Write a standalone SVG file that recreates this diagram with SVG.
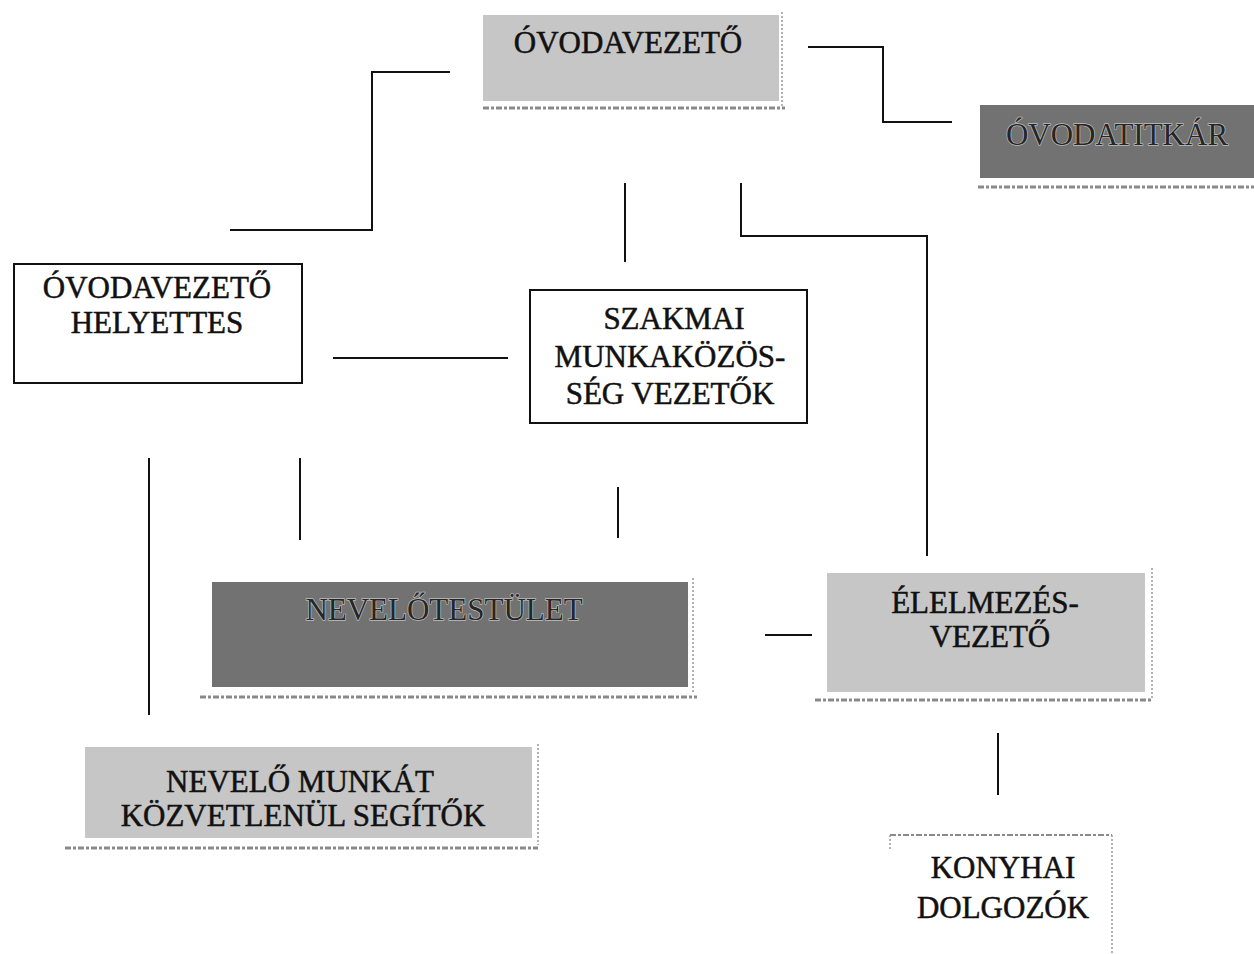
<svg xmlns="http://www.w3.org/2000/svg" width="1254" height="954" viewBox="0 0 1254 954">
<style>
.t{font-family:"Liberation Serif","Times New Roman",serif;font-size:31px;fill:#111;stroke:#111;stroke-width:0.5;text-anchor:middle}
.td{font-family:"Liberation Serif","Times New Roman",serif;font-size:31px;fill:#262626;text-anchor:middle;stroke:#bdbdbd;stroke-width:1.4;paint-order:stroke}
.lg{fill:#c6c6c6}
.dk{fill:#727272}
.wb{fill:#fff;stroke:#111;stroke-width:2}
.sh{stroke:#8a8a8a;stroke-width:3;stroke-dasharray:6 2 3 2}
.ed{stroke:#9a9a9a;stroke-width:1.5;stroke-dasharray:2 2}
.c{fill:none;stroke:#111;stroke-width:2}
</style>
<rect width="1254" height="954" fill="#fff"/>
<g id="connectors">
<polyline class="c" points="450,72 372,72 372,230 230,230"/>
<polyline class="c" points="808,47 883,47 883,122 952,122"/>
<line class="c" x1="625" y1="183" x2="625" y2="262"/>
<polyline class="c" points="741,183 741,236 927,236 927,556"/>
<line class="c" x1="333" y1="358" x2="508" y2="358"/>
<line class="c" x1="149" y1="458" x2="149" y2="715"/>
<line class="c" x1="300" y1="458" x2="300" y2="540"/>
<line class="c" x1="618" y1="487" x2="618" y2="538"/>
<line class="c" x1="765" y1="635" x2="812" y2="635"/>
<line class="c" x1="998" y1="733" x2="998" y2="795"/>
</g>
<g id="ovodavezeto">
<rect class="lg" x="483" y="15" width="296" height="86"/>
<line class="ed" x1="782" y1="12" x2="782" y2="106"/>
<line class="sh" x1="483" y1="108" x2="785" y2="108"/>
<text class="t" x="628" y="53">ÓVODAVEZETŐ</text>
</g>
<g id="ovodatitkar">
<rect class="dk" x="980" y="105" width="274" height="73"/>
<line class="sh" x1="978" y1="187" x2="1254" y2="187"/>
<text class="td" x="1117" y="145">ÓVODATITKÁR</text>
</g>
<g id="helyettes">
<rect class="wb" x="14" y="264" width="288" height="119"/>
<text class="t" x="157" y="298">ÓVODAVEZETŐ</text>
<text class="t" x="157" y="333">HELYETTES</text>
</g>
<g id="szakmai">
<rect class="wb" x="530" y="290" width="277" height="133"/>
<text class="t" x="674" y="329">SZAKMAI</text>
<text class="t" x="670" y="367">MUNKAKÖZÖS-</text>
<text class="t" x="670" y="404">SÉG VEZETŐK</text>
</g>
<g id="nevelotestulet">
<rect class="dk" x="212" y="582" width="476" height="105"/>
<line class="ed" x1="693" y1="578" x2="693" y2="693"/>
<line class="sh" x1="200" y1="697" x2="697" y2="697"/>
<text class="td" x="444" y="620">NEVELŐTESTÜLET</text>
</g>
<g id="elelmezes">
<rect class="lg" x="827" y="573" width="318" height="119"/>
<line class="ed" x1="1152" y1="568" x2="1152" y2="698"/>
<line class="sh" x1="815" y1="700" x2="1152" y2="700"/>
<text class="t" x="985" y="613">ÉLELMEZÉS-</text>
<text class="t" x="990" y="647">VEZETŐ</text>
</g>
<g id="segitok">
<rect class="lg" x="85" y="747" width="447" height="91"/>
<line class="ed" x1="538" y1="744" x2="538" y2="845"/>
<line class="sh" x1="65" y1="848" x2="538" y2="848"/>
<text class="t" x="300" y="792">NEVELŐ MUNKÁT</text>
<text class="t" x="303" y="826">KÖZVETLENÜL SEGÍTŐK</text>
</g>
<g id="konyhai">
<line class="sh" x1="890" y1="835" x2="1112" y2="835" style="stroke-width:2"/>
<line class="ed" x1="1112" y1="835" x2="1112" y2="954"/>
<line class="ed" x1="890" y1="835" x2="890" y2="850"/>
<text class="t" x="1003" y="878">KONYHAI</text>
<text class="t" x="1003" y="918">DOLGOZÓK</text>
</g>
</svg>
